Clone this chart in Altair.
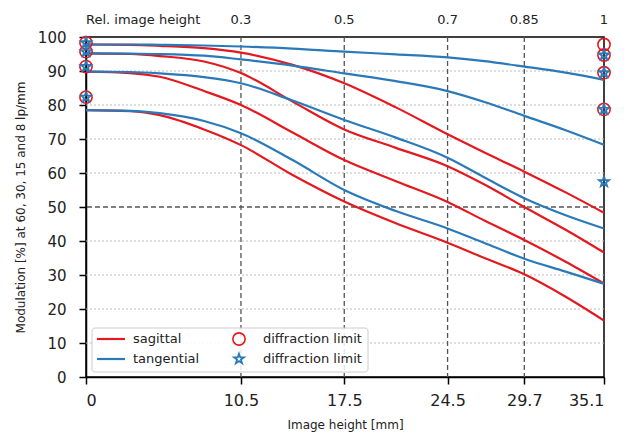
import altair as alt
import pandas as pd

# ---------------- data ----------------
X = [0, 3, 5, 8, 10.5, 14, 17.5, 21, 24.5, 27, 29.7, 32.5, 35.1]

SAG_8 = [97.8, 97.7, 97.4, 96.7, 95.4, 91.8, 86.4, 79.3, 71.4, 66.0, 60.4, 54.3, 48.3]
SAG_15 = [95.2, 95.0, 94.4, 92.8, 89.4, 81.0, 72.8, 67.4, 62.0, 56.6, 50.0, 43.3, 36.6]
SAG_30 = [89.8, 89.4, 88.3, 84.1, 80.0, 71.9, 63.8, 57.6, 51.5, 46.0, 40.3, 33.9, 27.5]
SAG_60 = [78.5, 78.2, 77.0, 72.8, 68.2, 59.4, 51.6, 45.2, 39.5, 35.0, 30.2, 23.6, 16.6]

TAN_8 = [97.8, 97.8, 97.7, 97.5, 97.2, 96.6, 95.7, 94.9, 94.0, 92.9, 91.3, 89.5, 87.4]
TAN_15 = [95.2, 95.1, 95.0, 94.5, 93.4, 91.6, 89.3, 87.0, 84.1, 80.9, 76.8, 72.6, 68.3]
TAN_30 = [89.8, 89.7, 89.3, 88.2, 86.4, 81.3, 75.6, 70.4, 64.5, 58.7, 52.6, 47.6, 43.7]
TAN_60 = [78.5, 78.3, 77.6, 75.3, 71.7, 63.8, 55.0, 48.8, 43.7, 39.4, 34.8, 31.0, 27.4]

DL_SAG_X = [0, 0, 0, 0, 35.1, 35.1, 35.1, 35.1]
DL_SAG_Y = [98.3, 95.7, 91.3, 82.3, 97.8, 94.7, 89.5, 78.7]
DL_TAN_X = [0, 0, 0, 0, 35.1, 35.1, 35.1, 35.1]
DL_TAN_Y = [98.3, 95.7, 91.3, 82.3, 94.7, 89.5, 78.7, 57.4]

X_TICKS = [0, 10.5, 17.5, 24.5, 29.7, 35.1]
Y_TICKS = [0, 10, 20, 30, 40, 50, 60, 70, 80, 90, 100]
REL_POS = [10.5, 17.5, 24.5, 29.7, 35.1]
REL_LABELS = ["0.3", "0.5", "0.7", "0.85", "1"]
V_GRID = [10.5, 17.5, 24.5, 29.7]
H_DOTTED = [10, 20, 30, 40, 60, 70, 80, 90]
H_DASHED = [50]

RED = "#e3191f"
BLUE = "#2a7ab9"
FONT = "DejaVu Sans"
STAR = ("M0,-1L0.2351,-0.3236L0.9511,-0.309L0.3804,0.1236L0.5878,0.809"
        "L0,0.4L-0.5878,0.809L-0.3804,0.1236L-0.9511,-0.309L-0.2351,-0.3236Z")

# ---------------- tables ----------------
rows = []
for name, kind, vals in [
    ("s8", "sagittal", SAG_8), ("s15", "sagittal", SAG_15),
    ("s30", "sagittal", SAG_30), ("s60", "sagittal", SAG_60),
    ("t8", "tangential", TAN_8), ("t15", "tangential", TAN_15),
    ("t30", "tangential", TAN_30), ("t60", "tangential", TAN_60),
]:
    for xv, yv in zip(X, vals):
        rows.append({"x": xv, "y": yv, "kind": kind, "series": name})
lines_df = pd.DataFrame(rows)

dl_sag = pd.DataFrame({"x": DL_SAG_X, "y": DL_SAG_Y})
dl_tan = pd.DataFrame({"x": DL_TAN_X, "y": DL_TAN_Y})

xscale = alt.Scale(domain=[0, 35.1], nice=False, zero=False)
yscale = alt.Scale(domain=[0, 100], nice=False)

XAXIS = alt.Axis(values=X_TICKS,
                 labelExpr="datum.value == 0 ? '0' : format(datum.value, '.1f')",
                 title="Image height [mm]", labelOverlap=False, labelFontSize=16,
                 grid=False, tickSize=7, labelPadding=8, titlePadding=11)
YAXIS = alt.Axis(values=Y_TICKS, format="d", tickCount=11,
                 title="Modulation [%] at 60, 30, 15 and 8 lp/mm",
                 labelOverlap=False,
                 grid=False, tickSize=7, labelPadding=13, titlePadding=10)

XENC = alt.X("x:Q", scale=xscale, axis=XAXIS)
YENC = alt.Y("y:Q", scale=yscale, axis=YAXIS)

# ---------------- grid ----------------
vgrid = alt.Chart(pd.DataFrame({"x": V_GRID})).mark_rule(
    color="#555555", strokeDash=[5, 3], strokeWidth=1.3
).encode(x=XENC)

hdot = alt.Chart(pd.DataFrame({"y": H_DOTTED})).mark_rule(
    color="#bbbbbb", strokeDash=[2, 2], strokeWidth=1
).encode(y=YENC)

hdash = alt.Chart(pd.DataFrame({"y": H_DASHED})).mark_rule(
    color="#555555", strokeDash=[5, 3], strokeWidth=1.3
).encode(y=YENC)

# ---------------- curves ----------------
lines = alt.Chart(lines_df).mark_line(
    strokeWidth=2.2, interpolate="monotone", clip=False
).encode(
    x=XENC,
    y=YENC,
    color=alt.Color("kind:N", scale=alt.Scale(domain=["sagittal", "tangential"],
                                              range=[RED, BLUE]), legend=None),
    detail="series:N",
)

circles = alt.Chart(dl_sag).mark_point(
    shape="circle", filled=False, color=RED, size=150, strokeWidth=1.6,
    opacity=1, clip=False
).encode(x=XENC, y=YENC)

stars = alt.Chart(dl_tan).mark_point(
    shape=STAR, filled=False, color=BLUE, size=110, strokeWidth=1.8,
    opacity=1, clip=False
).encode(x=XENC, y=YENC)

# ---------------- top "relative image height" labels ----------------
top_df = pd.DataFrame({"x": REL_POS, "label": REL_LABELS})
top_labels = alt.Chart(top_df).mark_text(
    font=FONT, fontSize=13, color="#222222", baseline="middle", align="center"
).encode(x=XENC, y=alt.value(-17), text="label:N")

top_title = alt.Chart(pd.DataFrame({"x": [0], "label": ["Rel. image height"]})).mark_text(
    font=FONT, fontSize=13, color="#222222", baseline="middle", align="left"
).encode(x=XENC, y=alt.value(-17), text="label:N")

# ---------------- legend ----------------
one = pd.DataFrame({"a": [0]})
leg_box = alt.Chart(one).mark_rect(
    fill="white", fillOpacity=0.85, stroke="#cccccc", strokeWidth=1, cornerRadius=3
).encode(x=alt.value(6), x2=alt.value(282), y=alt.value(291), y2=alt.value(335))
leg_red = alt.Chart(one).mark_rule(color=RED, strokeWidth=2.2).encode(
    x=alt.value(11), x2=alt.value(39), y=alt.value(302))
leg_blue = alt.Chart(one).mark_rule(color=BLUE, strokeWidth=2.2).encode(
    x=alt.value(11), x2=alt.value(39), y=alt.value(322))
leg_txt_s = alt.Chart(pd.DataFrame({"t": ["sagittal"]})).mark_text(
    font=FONT, fontSize=13, align="left", baseline="middle", color="#222222"
).encode(x=alt.value(47), y=alt.value(302), text="t:N")
leg_txt_t = alt.Chart(pd.DataFrame({"t": ["tangential"]})).mark_text(
    font=FONT, fontSize=13, align="left", baseline="middle", color="#222222"
).encode(x=alt.value(47), y=alt.value(322), text="t:N")
leg_circ = alt.Chart(one).mark_point(
    shape="circle", filled=False, color=RED, size=150, strokeWidth=1.6, opacity=1
).encode(x=alt.value(153), y=alt.value(302))
leg_star = alt.Chart(one).mark_point(
    shape=STAR, filled=False, color=BLUE, size=110, strokeWidth=1.8, opacity=1
).encode(x=alt.value(153), y=alt.value(322))
leg_txt_d1 = alt.Chart(pd.DataFrame({"t": ["diffraction limit"]})).mark_text(
    font=FONT, fontSize=13, align="left", baseline="middle", color="#222222"
).encode(x=alt.value(177), y=alt.value(302), text="t:N")
leg_txt_d2 = alt.Chart(pd.DataFrame({"t": ["diffraction limit"]})).mark_text(
    font=FONT, fontSize=13, align="left", baseline="middle", color="#222222"
).encode(x=alt.value(177), y=alt.value(322), text="t:N")

chart = alt.layer(
    hdot, hdash, vgrid, lines, circles, stars, top_labels, top_title,
    leg_box, leg_red, leg_blue, leg_txt_s, leg_txt_t, leg_circ, leg_star,
    leg_txt_d1, leg_txt_d2,
).properties(
    width=518, height=340,
    autosize=alt.AutoSizeParams(type="none"),
    padding={"left": 78, "top": 29, "right": 12, "bottom": 56},
).configure_view(
    stroke="black", strokeWidth=1.5
).configure_axis(
    domainColor="black", domainWidth=1.5, tickColor="black", tickWidth=1.5,
    labelFont=FONT, labelFontSize=15, labelColor="#222222", labelOverlap=False,
    titleFont=FONT, titleFontSize=12, titleFontWeight="normal", titleColor="#222222",
)

chart.save("out.html", embed_options={"renderer": "svg", "actions": False})
